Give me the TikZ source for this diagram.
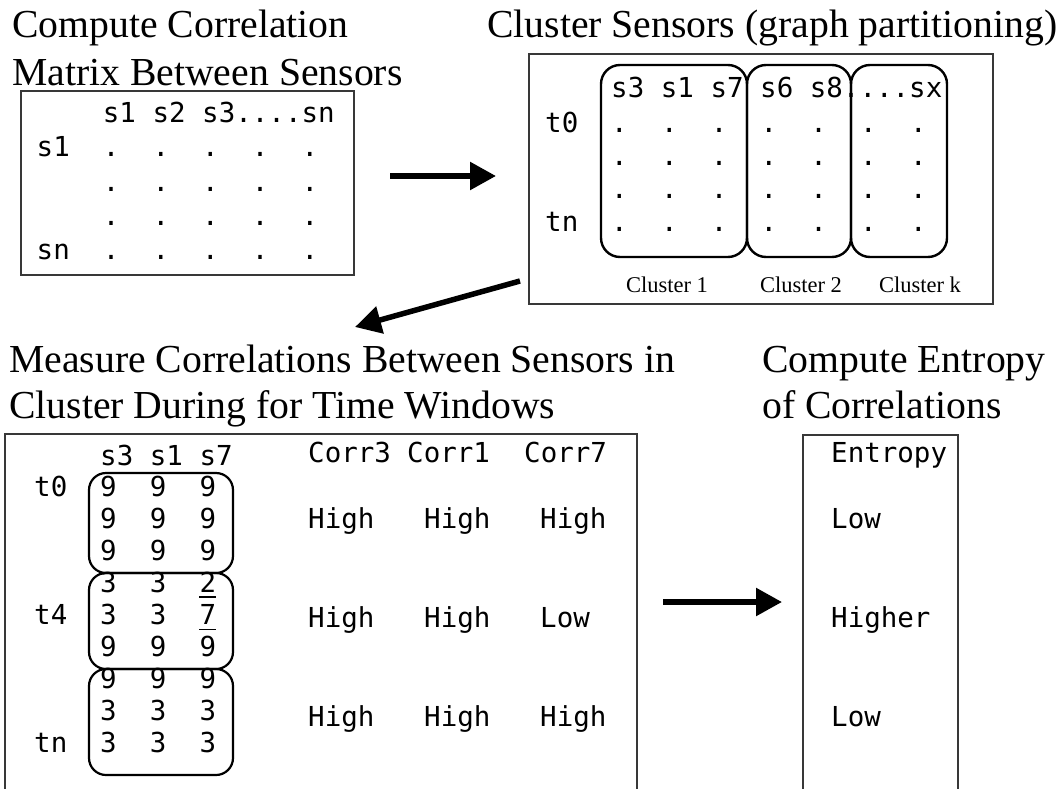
\documentclass[tikz,border=0pt]{standalone}
\usepackage{fontspec}
\setmainfont{Liberation Serif}
\newfontfamily\monofont{DejaVu Sans Mono}
\usetikzlibrary{arrows.meta}

\begin{document}
\begin{tikzpicture}[x=1pt,y=-1pt,
  title/.style={anchor=base west, inner sep=0pt, font=\fontsize{39.7}{47}\selectfont},
  mono/.style={anchor=base west, inner sep=0pt, font=\monofont\fontsize{27.5}{33}\selectfont},
  caption/.style={anchor=base, inner sep=0pt, font=\fontsize{22.5}{27}\selectfont},
  frame/.style={draw=black!78, line width=1.3pt},
  cluster/.style={draw=black, line width=2.4pt, rounded corners=19pt, inner sep=0pt},
  window/.style={draw=black, line width=2.2pt, rounded corners=17pt, inner sep=0pt},
  flow/.style={line width=5.5pt, -{Triangle[length=26pt,width=27pt]}},
  mark line/.style={line width=1.8pt}]

\useasboundingbox (0,0) rectangle (1062,789);

% ---------- step 1: correlation matrix ----------
\node[title] (t1a) at (12,38) {Compute Correlation};
\node[title] (t1b) at (12,86) {Matrix Between Sensors};
\node[frame, minimum width=333pt, minimum height=184pt, inner sep=0pt] (corrbox) at (187.5,183) {};
\node[mono] (hdrA) at (102.7,123) {s1 s2 s3....sn};
\node[mono] (rowA1) at (36.5,157) {s1};
\node[mono] (rowAn) at (36.5,259) {sn};
\foreach \r in {0,...,3}
  \foreach \c in {0,...,4}
    \node[mono] (dA-\r-\c) at ({36.5+(4+3*\c)*16.55},{157+34*\r}) {.};

% ---------- step 2: sensor clusters ----------
\node[title] (t2) at (487,38) {Cluster Sensors (graph partitioning)};
\node[frame, minimum width=464pt, minimum height=250pt, inner sep=0pt] (clusterbox) at (761,179) {};
\node[cluster, minimum width=146pt, minimum height=192pt] (c1) at (674,161) {};
\node[cluster, minimum width=104pt, minimum height=192pt] (c2) at (799,161) {};
\node[cluster, minimum width=96pt, minimum height=192pt] (ck) at (899,161) {};
\node[mono] (hdrB) at (611,98) {s3 s1 s7 s6 s8....sx};
\node[mono] (rowB0) at (545,132) {t0};
\node[mono] (rowBn) at (545,231) {tn};
\foreach \r in {0,...,3}
  \foreach \c in {0,...,6}
    \node[mono] (dB-\r-\c) at ({611+3*\c*16.6},{132+33*\r}) {.};
\node[caption] (cap1) at (667,292) {Cluster 1};
\node[caption] (cap2) at (801,292) {Cluster 2};
\node[caption] (capk) at (920,292) {Cluster k};

% ---------- step 3: windowed correlations ----------
\node[title] (t3a) at (9,372) {Measure Correlations Between Sensors in};
\node[title] (t3b) at (9,418) {Cluster During for Time Windows};
\coordinate (fl) at (5,789);
\coordinate (fr) at (637,789);
\draw[frame] (fl) -- (5,434) -- (637,434) -- (fr);

\node[window, minimum width=144pt, minimum height=100pt] (w0) at (161,523) {};
\node[window, minimum width=144pt, minimum height=96pt] (w4) at (161,621) {};
\node[window, minimum width=144pt, minimum height=106pt] (wn) at (161,722) {};

\node[mono] (hdrC) at (100,465) {s3 s1 s7};
\node[mono] (lt0) at (34,496) {t0};
\node[mono] (lt4) at (34,624.4) {t4};
\node[mono] (ltn) at (34,752.8) {tn};
\foreach \v [count=\i from 0] in {9,9,9,9,9,9,9,9,9,3,3,2,3,3,7,9,9,9,9,9,9,3,3,3,3,3,3}{
  \pgfmathtruncatemacro{\r}{div(\i,3)}
  \pgfmathtruncatemacro{\c}{mod(\i,3)}
  \node[mono] (v-\r-\c) at ({100+3*\c*16.55},{496+32.1*\r}) {\v};
}
\draw[mark line] ([yshift=-5pt]v-3-2.base west) -- ([yshift=-5pt]v-3-2.base east);
\draw[mark line] ([yshift=-5pt]v-4-2.base west) -- ([yshift=-5pt]v-4-2.base east);

\node[mono] (corr3) at (308,462) {Corr3};
\node[mono] (corr1) at (407,462) {Corr1};
\node[mono] (corr7) at (524,462) {Corr7};
\node[mono] (h00) at (308,528) {High};
\node[mono] (h01) at (424,528) {High};
\node[mono] (h02) at (540,528) {High};
\node[mono] (h10) at (308,627) {High};
\node[mono] (h11) at (424,627) {High};
\node[mono] (h12) at (540,627) {Low};
\node[mono] (h20) at (308,726) {High};
\node[mono] (h21) at (424,726) {High};
\node[mono] (h22) at (540,726) {High};

% ---------- step 4: entropy ----------
\node[title] (t4a) at (762,372) {Compute Entropy};
\node[title] (t4b) at (762,418) {of Correlations};
\coordinate (el) at (803,789);
\coordinate (er) at (958,789);
\draw[frame] (el) -- (803,435) -- (958,435) -- (er);
\node[mono] (ent) at (831,462) {Entropy};
\node[mono] (e0) at (831,528) {Low};
\node[mono] (e1) at (831,627) {Higher};
\node[mono] (e2) at (831,726) {Low};

% ---------- flow arrows ----------
\coordinate (a1s) at (390,176);
\coordinate (a1e) at (496,176);
\coordinate (a2s) at (520,281);
\coordinate (a2e) at (355,327);
\coordinate (a3s) at (663,602);
\coordinate (a3e) at (782,602);
\draw[flow] (a1s) -- (a1e);
\draw[flow] (a2s) -- (a2e);
\draw[flow] (a3s) -- (a3e);
\end{tikzpicture}
\end{document}
